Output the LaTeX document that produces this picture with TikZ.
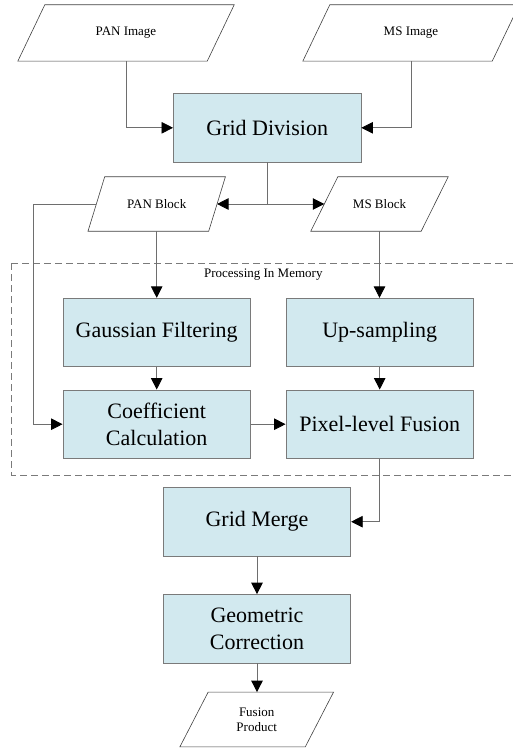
\documentclass[tikz,border=0pt]{standalone}
\usepackage{fontspec}
\setmainfont{Liberation Serif}
\usetikzlibrary{arrows.meta}

\definecolor{boxfill}{HTML}{D2E9EF}
\definecolor{boxline}{HTML}{7A7A7A}
\definecolor{wire}{HTML}{6E6E6E}

\tikzset{
  procbox/.style={draw=boxline, fill=boxfill, line width=0.8pt, rectangle,
    minimum width=187.5pt, minimum height=68.5pt, inner sep=0pt,
    align=center, font=\fontsize{22}{26.5}\selectfont},
  datablock/.style={rectangle, inner sep=0pt, align=center,
    font=\fontsize{13}{15.2}\selectfont},
  blockline/.style={draw=black!75, line width=0.6pt},
  arr/.style={draw=wire, line width=0.8pt,
    -{Triangle[length=11.5pt,width=11.5pt,fill=black,color=black]}},
  wireline/.style={draw=wire, line width=0.8pt},
}

% outline of a data block: a parallelogram leaning right inside the node's box
\newcommand\slantoutline[2]{%
  \draw[blockline] ([xshift=#2]#1.north west) -- (#1.north east)
    -- ([xshift=-#2]#1.south east) -- (#1.south west) -- cycle;}

\begin{document}
\begin{tikzpicture}[x=1pt,y=-1pt]
\useasboundingbox (0,0) rectangle (512,751);

% memory processing region
\draw[boxline, dashed, dash pattern=on 7pt off 4pt, line width=0.7pt]
  (11.7,263.3) rectangle (540,475);
\node[font=\fontsize{13}{15}\selectfont] (memlabel) at (263.3,275) {Processing In Memory};

% input data
\node[datablock, minimum width=216pt, minimum height=56pt] (panimg) at (126,33) {PAN Image};
\slantoutline{panimg}{27}
\node[datablock, minimum width=216pt, minimum height=56pt] (msimg) at (411,33) {MS Image};
\slantoutline{msimg}{27}

\node[procbox] (grid) at (267.2,127.8) {Grid Division};

\node[datablock, minimum width=137pt, minimum height=54pt] (panb) at (156.7,204) {PAN Block};
\slantoutline{panb}{16.7}
\node[datablock, minimum width=137pt, minimum height=54pt] (msb) at (379.5,204) {MS Block};
\slantoutline{msb}{27}

% processing steps
\node[procbox] (gauss) at (156.7,332.5) {Gaussian Filtering};
\node[procbox] (upsamp) at (379.7,332.5) {Up-sampling};
\node[procbox] (coef) at (156.7,424.2) {Coefficient\\Calculation};
\node[procbox] (pixfus) at (379.7,424.2) {Pixel-level Fusion};
\node[procbox] (merge) at (257,521.7) {Grid Merge};
\node[procbox] (geocor) at (257,628.8) {Geometric\\Correction};

\node[datablock, minimum width=153.3pt, minimum height=54.4pt] (fusion) at (256.7,719.5) {Fusion\\Product};
\slantoutline{fusion}{28.3}

% connectors
\coordinate (split) at (grid.south |- panb.center);
\coordinate (loopx) at (33.3,0);

\draw[arr] (panimg.south) |- (grid.west);
\draw[arr] (msimg.south) |- (grid.east);
\draw[wireline] (grid.south) -- (split);
\draw[arr] (split) -- ([xshift=-8.35]panb.east);
\draw[arr] (split) -- ([xshift=13.5]msb.west);
\draw[arr] ([xshift=8.35]panb.west) -- (panb.west -| loopx) |- (coef.west);
\draw[arr] (panb.south) -- (gauss.north);
\draw[arr] (msb.south) -- (msb.south |- upsamp.north);
\draw[arr] (gauss) -- (coef);
\draw[arr] (upsamp) -- (pixfus);
\draw[arr] (coef) -- (pixfus);
\draw[arr] (pixfus.south) |- (merge.east);
\draw[arr] (merge) -- (geocor);
\draw[arr] (geocor.south) -- (geocor.south |- fusion.north);
\end{tikzpicture}
\end{document}
